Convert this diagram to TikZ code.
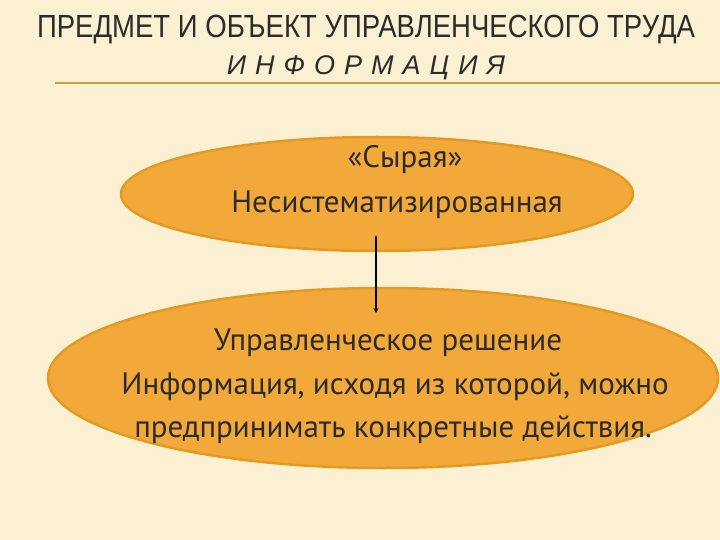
\documentclass[tikz,border=0pt]{standalone}
\usepackage{fontspec}
\setmainfont{Liberation Sans}
\newfontfamily\bodyf{PT Sans}
\usepackage{graphicx}
\usetikzlibrary{arrows.meta}
\definecolor{bgc}{HTML}{FBF0D2}
\definecolor{ellf}{HTML}{F2A93A}
\definecolor{elld}{HTML}{E39A22}
\definecolor{goldl}{HTML}{C8A040}
\definecolor{txt}{HTML}{2B2B2B}
\begin{document}
\begin{tikzpicture}[x=1pt,y=-1pt,
  body/.style={font=\bodyf\fontsize{31}{34}\selectfont,text=txt,align=center}]
\fill[bgc] (0,0) rectangle (720,540);
\useasboundingbox (0,0) rectangle (720,540);
\node[font=\fontsize{32}{36}\selectfont,text=txt] (t1) at (366,30) {\scalebox{0.86}[1]{ПРЕДМЕТ И ОБЪЕКТ УПРАВЛЕНЧЕСКОГО ТРУДА}};
\node[font=\itshape\fontsize{27}{30}\selectfont,text=txt] (t2) at (366,68) {И\,\,Н\,\,Ф\,\,О\,\,Р\,\,М\,\,А\,\,Ц\,\,И\,\,Я};
\coordinate (la) at (55,83); \coordinate (lb) at (720,83);
\draw[goldl,line width=1.5pt] (la) -- (lb);
\fill[ellf] (377,194) ellipse[x radius=256,y radius=57];
\draw[elld,line width=2.5pt] (377,194) ellipse[x radius=256,y radius=57];
\fill[ellf] (383,378) ellipse[x radius=335,y radius=90];
\draw[elld,line width=2.5pt] (383,378) ellipse[x radius=335,y radius=90];
\node[body] (a1) at (405,160) {«Сырая»};
\node[body] (a2) at (397,205) {Несистематизированная};
\node[body] (b1) at (388,343) {Управленческое решение};
\node[body] (b2) at (395,387) {Информация, исходя из которой, можно};
\node[body] (b3) at (393,430) {предпринимать конкретные действия.};
\coordinate (c1) at (376,236); \coordinate (c2) at (376,313);
\draw[black,line width=1.3pt,-{Stealth[length=5pt,width=5pt]}] (c1) -- (c2);
\end{tikzpicture}
\end{document}
